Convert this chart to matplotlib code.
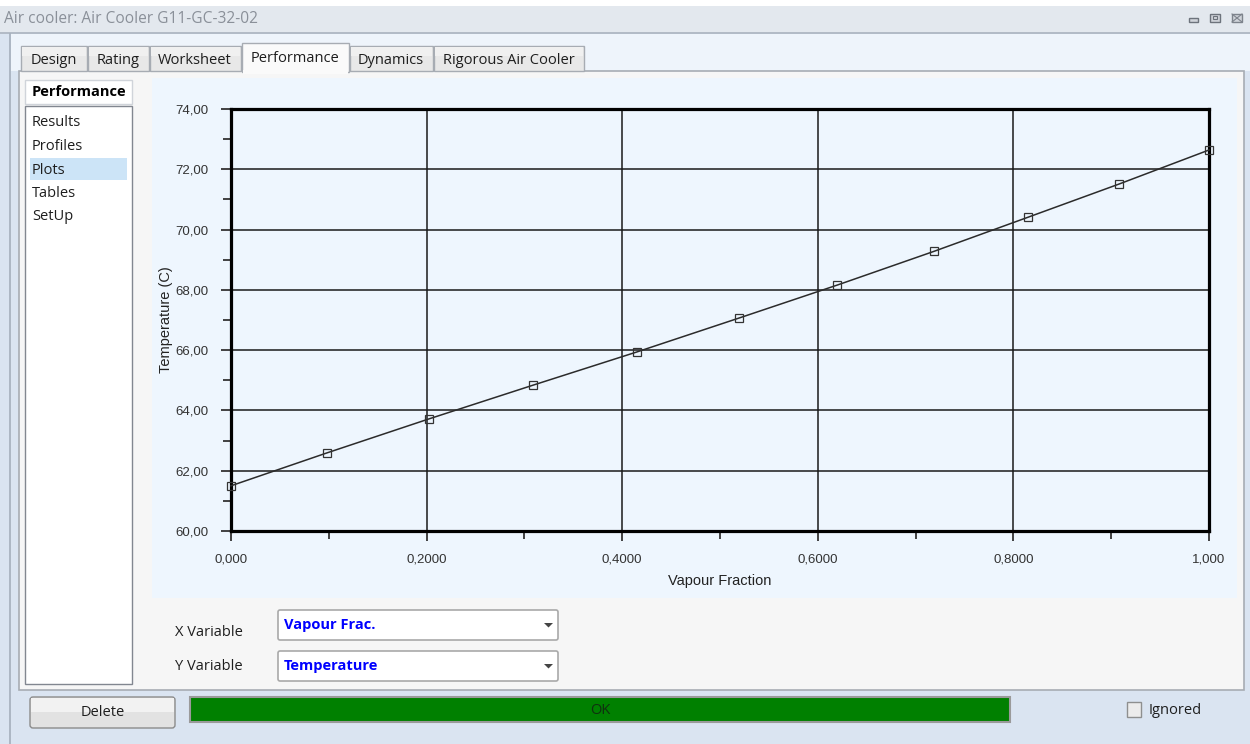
import matplotlib
matplotlib.use("Agg")
import matplotlib.pyplot as plt
from matplotlib.patches import Rectangle, FancyBboxPatch, Polygon
import numpy as np

# performance plot data: vapour fraction vs temperature (C)
vap_frac = [0.000, 0.098, 0.2025, 0.309, 0.415, 0.519, 0.620, 0.719, 0.815, 0.908, 1.000]
temp_c = [61.50, 62.59, 63.72, 64.84, 65.94, 67.06, 68.16, 69.28, 70.41, 71.51, 72.64]

x_ticks = [0.0, 0.2, 0.4, 0.6, 0.8, 1.0]
x_ticklabels = ["0,000", "0,2000", "0,4000", "0,6000", "0,8000", "1,000"]
y_ticks = [60, 62, 64, 66, 68, 70, 72, 74]
y_ticklabels = ["60,00", "62,00", "64,00", "66,00", "68,00", "70,00", "72,00", "74,00"]

tabs = ["Design", "Rating", "Worksheet", "Performance", "Dynamics", "Rigorous Air Cooler"]
tab_edges = [20, 87, 149, 241, 349, 433, 584]
menu_items = ["Results", "Profiles", "Plots", "Tables", "SetUp"]

UI = "Open Sans"
W, H = 1250, 744

fig = plt.figure(figsize=(W / 100, H / 100), dpi=100)
fig.patch.set_facecolor("#dae4f1")

# full-figure axes in pixel coordinates for the window chrome
ui = fig.add_axes([0, 0, 1, 1])
ui.set_xlim(0, W)
ui.set_ylim(H, 0)
ui.axis("off")


def box(x0, y0, x1, y1, fc, ec="none", lw=1.0, z=1):
    ui.add_patch(Rectangle((x0, y0), x1 - x0, y1 - y0, facecolor=fc,
                           edgecolor=ec, linewidth=lw, zorder=z))


# title bar
box(0, 0, W, 6, "white", z=0)
box(0, 6, W, 33, "#e3e8ee", z=0)
ui.plot([0, W], [33, 33], color="#aab3bf", lw=1.2, zorder=2)
ui.text(4, 19, "Air cooler: Air Cooler G11-GC-32-02", fontsize=11.2, family=UI,
        color="#8a9099", va="center")
# window buttons
box(1189, 18, 1198, 22, "#d0d4da", "#6d737c", 1.0, z=3)
box(1210, 14, 1220, 22, "#d0d4da", "#6d737c", 1.0, z=3)
box(1213, 16, 1217, 19, "none", "#6d737c", 0.8, z=3)
box(1232, 14, 1242, 22, "#d0d4da", "#7d838c", 1.0, z=3)
ui.plot([1232, 1242], [14, 22], color="#7d838c", lw=0.8, zorder=4)
ui.plot([1232, 1242], [22, 14], color="#7d838c", lw=0.8, zorder=4)

# window body
box(10, 34, W, H, "#dae4f1", z=0)
ui.plot([10, 10], [34, H], color="#a5afbb", lw=1.2, zorder=2)
box(11, 34, W, 71, "#eef4fb", z=0)

# tab page
box(19, 71, 1244, 690, "#f6f6f6", "#a7acb3", 1.2, z=1)

# tabs
for i, name in enumerate(tabs):
    x0, x1 = tab_edges[i] + 0.5, tab_edges[i + 1] - 0.5
    if name == "Performance":
        box(x0, 43, x1, 72, "#fafafa", "#a7acb3", 1.0, z=3)
        box(x0 + 1, 70, x1 - 1, 74, "#fafafa", z=4)
        ui.text((x0 + x1) / 2, 58, name, fontsize=10.5, family=UI,
                color="#1e1e1e", ha="center", va="center", zorder=5)
    else:
        box(x0, 46, x1, 71, "#e8e8e8", "#a7acb3", 1.0, z=2)
        box(x0 + 1, 46.5, x1 - 1, 56, "#f0f0f0", z=2)
        ui.text((x0 + x1) / 2, 60, name, fontsize=10.5, family=UI,
                color="#1e1e1e", ha="center", va="center", zorder=5)

# navigation list
box(25, 80, 132, 104, "white", "#d0d4da", 1.0, z=2)
ui.text(32, 92, "Performance", fontsize=10.5, family=UI, weight="bold",
        color="black", va="center", zorder=3)
box(25, 106, 132, 684, "white", "#828790", 1.0, z=2)
box(30, 158, 127, 180, "#cce4f7", z=3)
for k, item in enumerate(menu_items):
    ui.text(32, 123 + k * 23.5, item, fontsize=10.5, family=UI,
            color="#1e1e1e", va="center", zorder=4)

# plot panel
box(152, 78, 1237, 598, "#eef6fe", z=1)

# variable selectors
for (lbl, val, y0, ly) in [("X Variable", "Vapour Frac.", 610, 633),
                           ("Y Variable", "Temperature", 651, 666)]:
    ui.text(175, ly, lbl, fontsize=10.5, family=UI, color="#1e1e1e",
            va="center", zorder=3)
    ui.add_patch(FancyBboxPatch((278, y0), 280, 30, boxstyle="round,pad=0,rounding_size=2",
                                facecolor="white", edgecolor="#a9a9a9", lw=1.2, zorder=2))
    ui.text(284, y0 + 15, val, fontsize=10.5, family=UI, weight="bold",
            color="#0000ff", va="center", zorder=3)
    ui.add_patch(Polygon([[544, y0 + 13], [553, y0 + 13], [548.5, y0 + 17.5]],
                         closed=True, facecolor="#444444", edgecolor="none", zorder=3))

# bottom bar
ui.add_patch(FancyBboxPatch((30, 697), 145, 31, boxstyle="round,pad=0,rounding_size=3",
                            facecolor="#e2e2e2", edgecolor="#8b8b8b", lw=1.0, zorder=2))
box(31, 698, 174, 712, "#f2f2f2", z=2)
ui.text(102.5, 713, "Delete", fontsize=10.5, family=UI, color="#1e1e1e",
        ha="center", va="center", zorder=3)
box(190, 697, 1010, 722, "#008000", "#9a9a9a", 1.5, z=2)
ui.text(600, 710, "OK", fontsize=10.5, family=UI, color="#103010",
        ha="center", va="center", zorder=3)
box(1127, 702, 1141, 717, "#ececec", "#8e8f8f", 1.0, z=2)
ui.text(1149, 710, "Ignored", fontsize=10.5, family=UI, color="#1e1e1e",
        va="center", zorder=3)

# the chart itself
ax = fig.add_axes([231 / W, 1 - 531 / H, 978 / W, 422 / H])
ax.set_facecolor("#eef6fe")
ax.plot(vap_frac, temp_c, color="#2b2b2b", lw=1.1, marker="s", markersize=5.5,
        markerfacecolor="none", markeredgecolor="#333333", markeredgewidth=0.9,
        clip_on=False, zorder=3)
ax.set_xlim(0, 1)
ax.set_ylim(60, 74)
ax.set_xticks(x_ticks)
ax.set_xticklabels(x_ticklabels)
ax.set_yticks(y_ticks)
ax.set_yticklabels(y_ticklabels)
ax.set_xticks(np.arange(0.1, 1.0, 0.2), minor=True)
ax.set_yticks(np.arange(61, 74, 2), minor=True)
ax.grid(True, which="major", color="#1a1a1a", lw=1.1)
for s in ax.spines.values():
    s.set_linewidth(2.3)
    s.set_color("black")
ax.tick_params(which="major", direction="out", length=7, width=1.3, color="#333333",
               labelsize=9.5, labelcolor="#333333", pad=9)
ax.tick_params(which="minor", direction="out", length=6, width=1.3, color="#333333")
for lab in ax.get_xticklabels() + ax.get_yticklabels():
    lab.set_family("Liberation Sans")
ax.set_xlabel("Vapour Fraction", fontsize=10.5, family="Liberation Sans",
              color="#222222", labelpad=6)
ax.set_ylabel("Temperature (C)", fontsize=10.5, family="Liberation Sans",
              color="#222222", labelpad=2)

fig.savefig("out.png", dpi=100, facecolor=fig.get_facecolor())
